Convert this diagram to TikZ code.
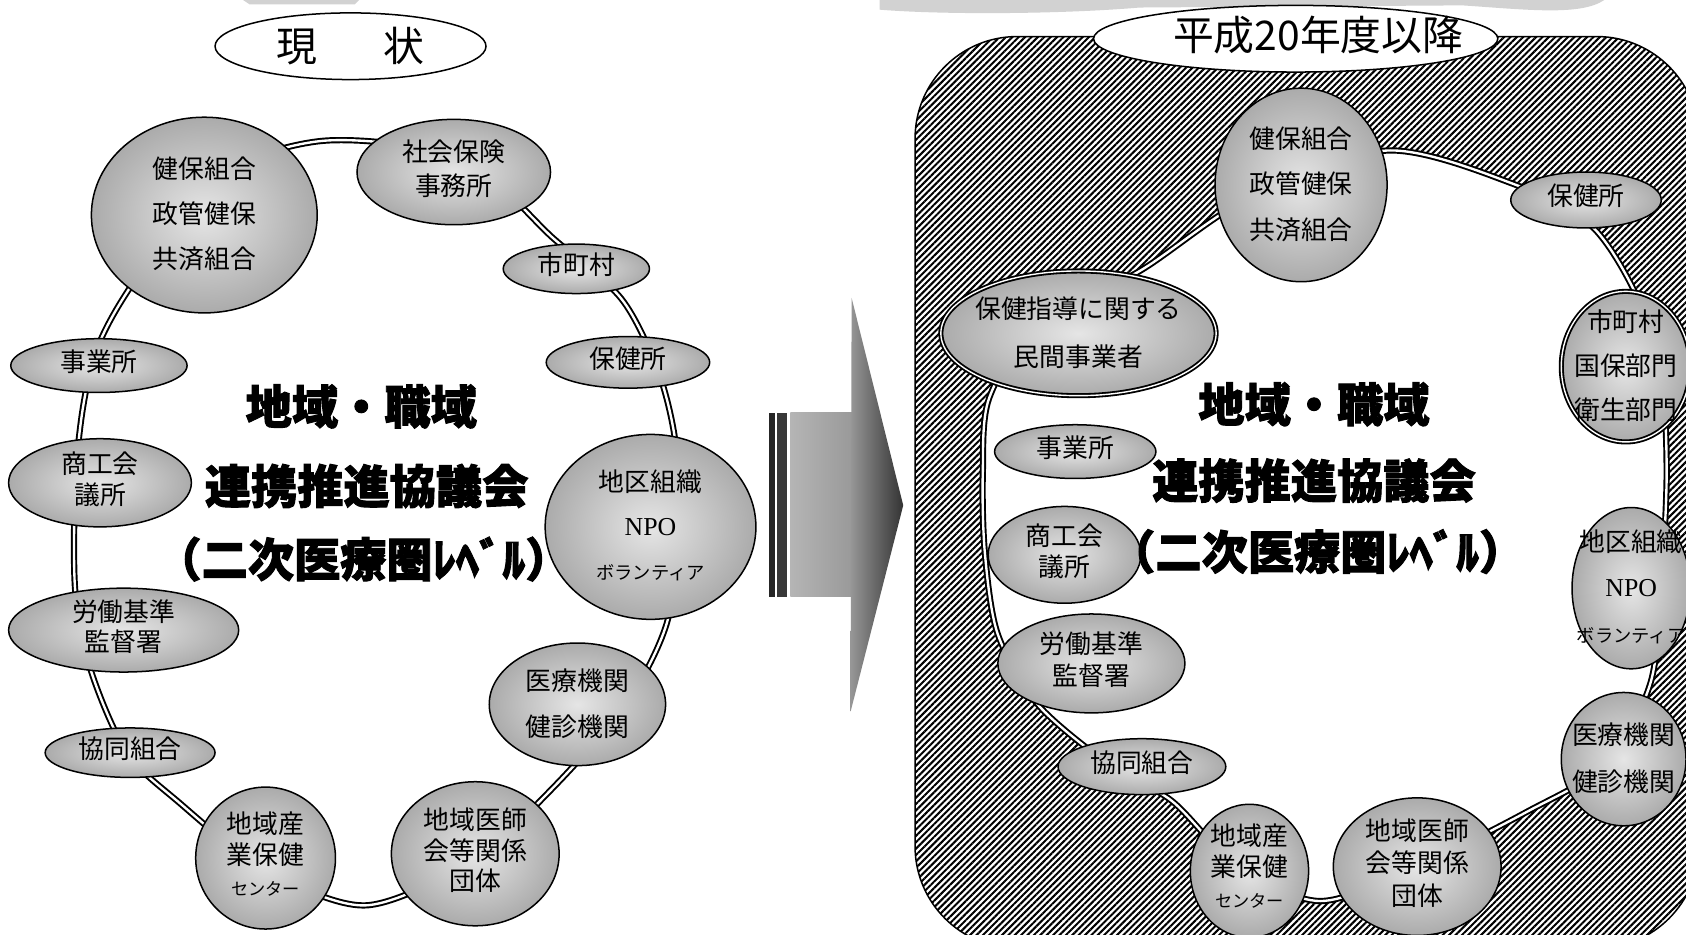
\documentclass[tikz,border=0pt]{standalone}
\usepackage{fontspec}
\newfontfamily\jp{Noto Sans CJK JP}
\newfontfamily\jph{Noto Sans CJK JP}[FakeBold=2]
\newfontfamily\ser{Liberation Serif}
\usetikzlibrary{shapes.geometric,patterns.meta}
\newcommand\tx[2][1]{\smash{\raisebox{-0.25em}{\makebox[0pt]{\def\arraystretch{#1}\begin{tabular}[c]{@{}c@{}}#2\end{tabular}}}}}
\tikzset{
  bub/.style={ellipse, draw, line width=1.4pt, inner sep=0pt, outer sep=0pt,
    inner color=gray!20, outer color=gray!66,
    font=\jp\fontsize{24}{28.8}\selectfont},
  dbl/.style={double=white, double distance=1.3pt, line width=1.7pt},
  ring/.style={draw=black, line width=1.8pt, double=white, double distance=2.2pt},
  ttl/.style={ellipse, draw, line width=1.4pt, fill=white, inner sep=0pt,
    font=\jp\fontsize{38}{44}\selectfont},
  big/.style={inner sep=0pt, font=\jph\bfseries\fontsize{43}{50}\selectfont}
}
\begin{document}
\begin{tikzpicture}[x=1pt,y=-1pt]
\useasboundingbox (0,0) rectangle (1568,869);
\clip (0,0) rectangle (1568,869);
\fill[white] (0,0) rectangle (1568,869);

% thin stippled strips cut by the top edge
\fill[gray!35] (226,0) -- (232,4) -- (330,4) -- (334,0) -- cycle;
\fill[gray!35] (818,0) -- (818,9) .. controls (880,14) and (990,13) .. (1060,7)
  -- (1360,5) .. controls (1420,9) and (1470,15) .. (1492,0) -- cycle;

% hatched field of the right panel
\draw[line width=1.4pt, pattern color=black,
  pattern={Lines[angle=45,distance=4.2pt,line width=1.9pt]},
  rounded corners=95pt] (851,34) rectangle (1580,882);

% ring coordinates, left
\coordinate (rL1) at (300,131);  \coordinate (rL2) at (430,148);
\coordinate (rL3) at (515,222);  \coordinate (rL4) at (578,278);
\coordinate (rL5) at (612,345);  \coordinate (rL6) at (628,410);
\coordinate (rL7) at (632,490);  \coordinate (rL8) at (620,580);
\coordinate (rL9) at (582,655);  \coordinate (rL10) at (512,735);
\coordinate (rL11) at (440,800); \coordinate (rL12) at (340,842);
\coordinate (rL13) at (245,808); \coordinate (rL14) at (165,745);
\coordinate (rL15) at (118,700); \coordinate (rL16) at (85,625);
\coordinate (rL17) at (70,550);  \coordinate (rL18) at (70,450);
\coordinate (rL19) at (77,380);  \coordinate (rL20) at (90,325);
\coordinate (rL21) at (118,272); \coordinate (rL22) at (190,170);
% ring coordinates, right
\coordinate (rR1) at (1290,140);  \coordinate (rR2) at (1410,172);
\coordinate (rR3) at (1480,210);  \coordinate (rR4) at (1522,275);
\coordinate (rR5) at (1545,350);  \coordinate (rR6) at (1550,440);
\coordinate (rR7) at (1545,545);  \coordinate (rR8) at (1535,635);
\coordinate (rR9) at (1495,710);  \coordinate (rR10) at (1420,755);
\coordinate (rR11) at (1320,805); \coordinate (rR12) at (1228,838);
\coordinate (rR13) at (1150,805); \coordinate (rR14) at (1090,745);
\coordinate (rR15) at (1030,710); \coordinate (rR16) at (965,655);
\coordinate (rR17) at (928,590);  \coordinate (rR18) at (916,515);
\coordinate (rR19) at (914,440);  \coordinate (rR20) at (920,370);
\coordinate (rR21) at (965,300);  \coordinate (rR22) at (1060,252);
\coordinate (rR23) at (1160,185);

\fill[white] plot[smooth cycle] coordinates {(rR1) (rR2) (rR3) (rR4) (rR5) (rR6) (rR7) (rR8) (rR9) (rR10) (rR11) (rR12) (rR13) (rR14) (rR15) (rR16) (rR17) (rR18) (rR19) (rR20) (rR21) (rR22) (rR23)};
\draw[ring] plot[smooth cycle] coordinates {(rR1) (rR2) (rR3) (rR4) (rR5) (rR6) (rR7) (rR8) (rR9) (rR10) (rR11) (rR12) (rR13) (rR14) (rR15) (rR16) (rR17) (rR18) (rR19) (rR20) (rR21) (rR22) (rR23)};
\draw[ring] plot[smooth cycle] coordinates {(rL1) (rL2) (rL3) (rL4) (rL5) (rL6) (rL7) (rL8) (rL9) (rL10) (rL11) (rL12) (rL13) (rL14) (rL15) (rL16) (rL17) (rL18) (rL19) (rL20) (rL21) (rL22)};

% big arrow between panels
\fill[black!85] (715,384) rectangle (721,555);
\fill[black!78] (723,384) rectangle (732,555);
\shade[left color=gray!58, right color=gray!80] (735,384) rectangle (793,555);
\shade[left color=gray!82, right color=black!80] (792,277) -- (840,470) -- (791,662) -- cycle;

% titles
\node[ttl, minimum width=252pt, minimum height=62pt] (genjo) at (326,43) {現\hspace{62pt}状};
\node[ttl, minimum width=376pt, minimum height=62pt] (heisei) at (1205,36) {};
\node[inner sep=0pt, font=\jp\fontsize{38}{44}\selectfont] (heiseit) at (1226,33) {平成20年度以降};

% left panel nodes
\node[bub, minimum width=210pt, minimum height=182pt] (kenpoL) at (190,200) {\tx[1.45]{健保組合\\政管健保\\共済組合}};
\node[bub, minimum width=180pt, minimum height=98pt] (shakai) at (422,160) {\tx[1.08]{社会保険\\事務所}};
\node[bub, minimum width=136pt, minimum height=46pt] (shichoL) at (536,250) {\tx{市町村}};
\node[bub, minimum width=152pt, minimum height=48pt] (hokenL) at (584,337) {\tx{保健所}};
\node[bub, minimum width=196pt, minimum height=172pt] (chikuL) at (605,490) {\tx[1.42]{地区組織\\{\ser NPO}\\{\fontsize{17}{20}\selectfont ボランティア}}};
\node[bub, minimum width=164pt, minimum height=114pt] (iryoL) at (537,655) {\tx[1.5]{医療機関\\健診機関}};
\node[bub, minimum width=156pt, minimum height=134pt] (ishiL) at (442,794) {\tx[0.96]{地域医師\\会等関係\\団体}};
\node[bub, minimum width=130pt, minimum height=132pt] (sangyoL) at (247,798) {\tx[1.0]{地域産\\業保健\\{\fontsize{16}{19}\selectfont センター}}};
\node[bub, minimum width=158pt, minimum height=46pt] (kyodoL) at (121,700) {\tx{協同組合}};
\node[bub, minimum width=214pt, minimum height=78pt] (rodoL) at (115,586) {\tx[0.94]{労働基準\\監督署}};
\node[bub, minimum width=170pt, minimum height=82pt] (shokoL) at (93,449) {\tx[0.94]{商工会\\議所}};
\node[bub, minimum width=164pt, minimum height=50pt] (jigyoL) at (92,340) {\tx{事業所}};

% right panel nodes
\node[bub, minimum width=160pt, minimum height=180pt] (kenpoR) at (1210,172) {\tx[1.47]{健保組合\\政管健保\\共済組合}};
\node[bub, minimum width=140pt, minimum height=52pt] (hokenR) at (1475,186) {\tx{保健所}};
\node[bub, dbl, minimum width=120pt, minimum height=140pt] (shichoR) at (1512,341) {\tx[1.42]{市町村\\国保部門\\衛生部門}};
\node[bub, minimum width=110pt, minimum height=150pt] (chikuR) at (1517,547) {\tx[1.46]{地区組織\\{\ser NPO}\\{\fontsize{17}{20}\selectfont ボランティア}}};
\node[bub, minimum width=116pt, minimum height=124pt] (iryoR) at (1510,706) {\tx[1.5]{医療機関\\健診機関}};
\node[bub, minimum width=156pt, minimum height=128pt] (ishiR) at (1318,806) {\tx[1.06]{地域医師\\会等関係\\団体}};
\node[bub, minimum width=110pt, minimum height=124pt] (sangyoR) at (1162,810) {\tx[1.0]{地域産\\業保健\\{\fontsize{16}{19}\selectfont センター}}};
\node[bub, minimum width=156pt, minimum height=52pt] (kyodoR) at (1062,713) {\tx{協同組合}};
\node[bub, minimum width=174pt, minimum height=92pt] (rodoR) at (1015,617) {\tx[1.04]{労働基準\\監督署}};
\node[bub, minimum width=142pt, minimum height=90pt] (shokoR) at (990,516) {\tx[0.94]{商工会\\議所}};
\node[bub, minimum width=150pt, minimum height=50pt] (jigyoR) at (1000,420) {\tx{事業所}};
\node[bub, dbl, minimum width=256pt, minimum height=116pt] (minkan) at (1003,310) {\tx[1.53]{保健指導に関する\\民間事業者}};

% council titles
\node[big] (cL1) at (336,378) {地域・職域};
\node[big] (cL2) at (341,452) {連携推進協議会};
\node[big] (cL3) at (338,520) {（二次医療圏ﾚﾍﾞﾙ）};
\node[big] (cR1) at (1222,376) {地域・職域};
\node[big] (cR2) at (1222,447) {連携推進協議会};
\node[big] (cR3) at (1225,513) {（二次医療圏ﾚﾍﾞﾙ）};
\end{tikzpicture}
\end{document}
